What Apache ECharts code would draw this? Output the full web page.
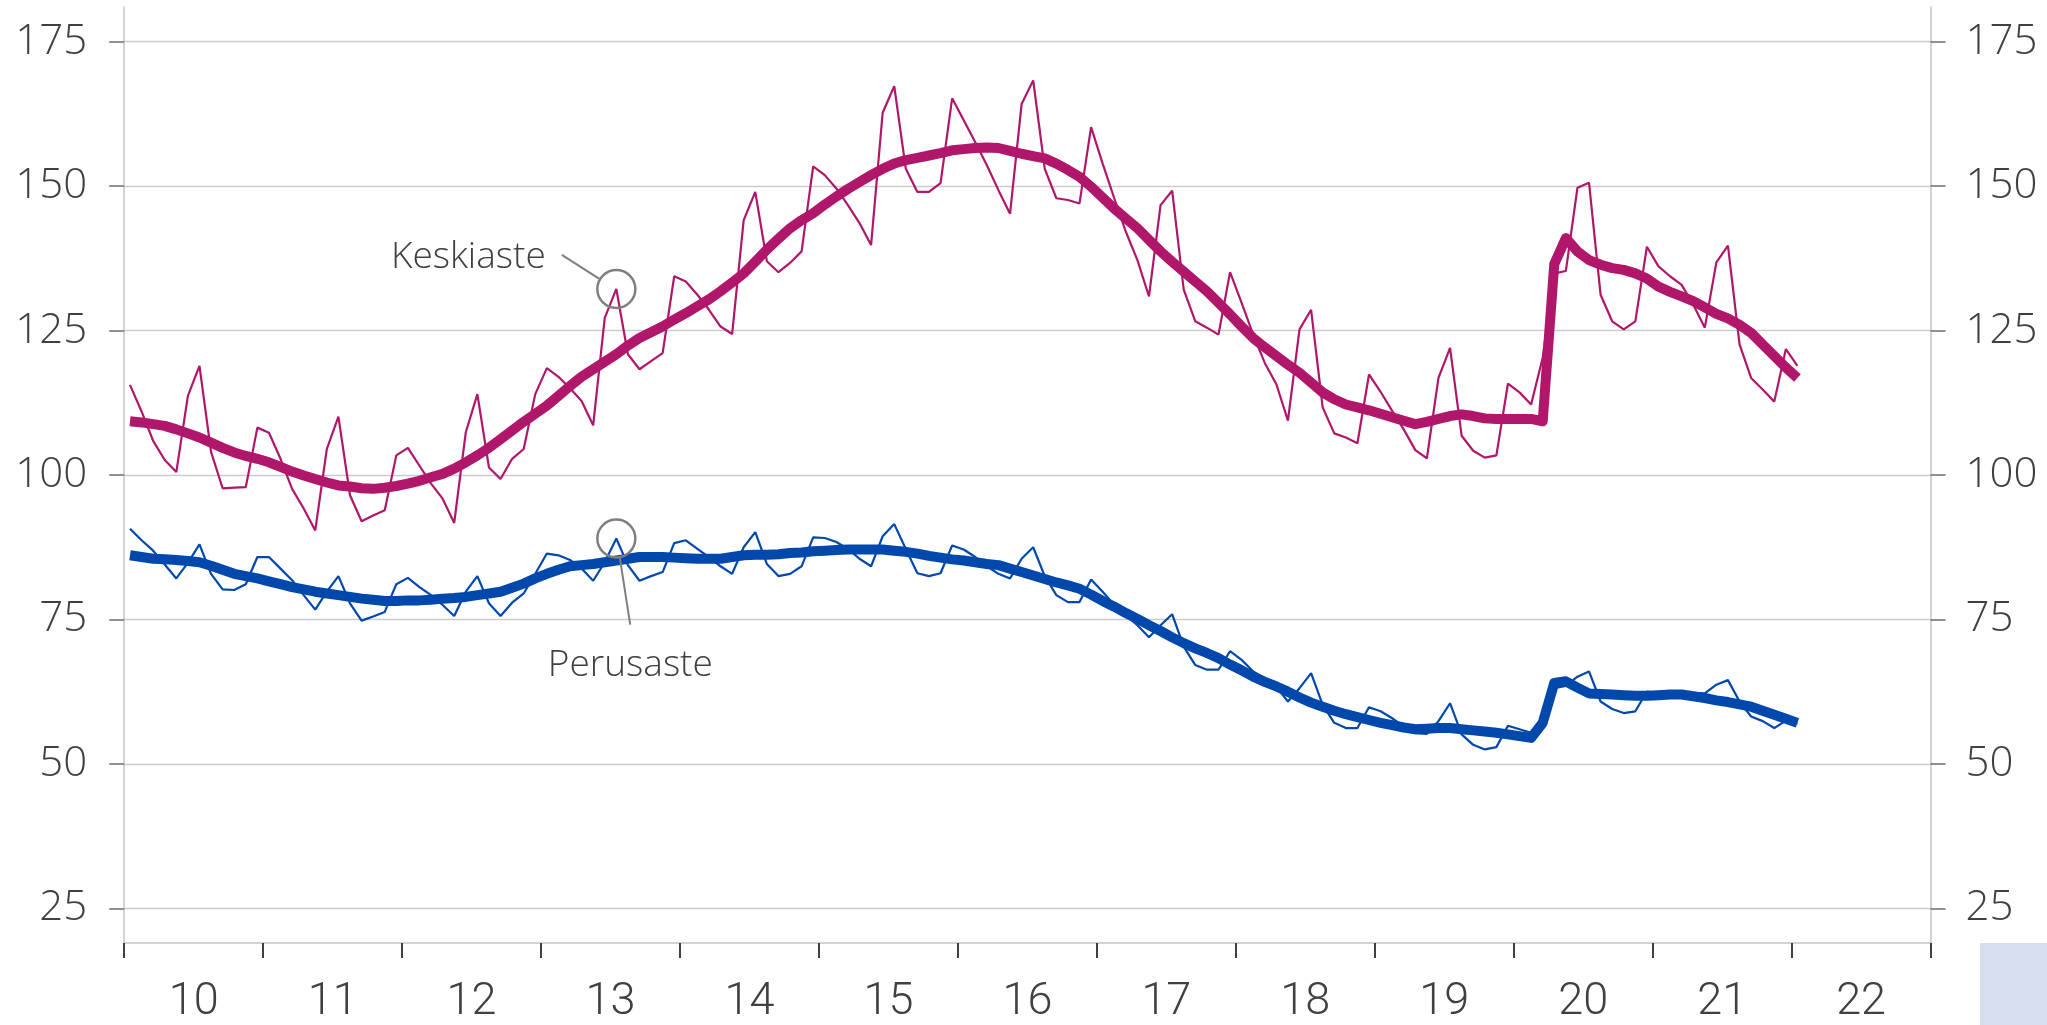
<!DOCTYPE html>
<html>
<head>
<meta charset="utf-8">
<script src="https://cdn.jsdelivr.net/npm/echarts@6/dist/echarts.min.js"></script>
<style>
  html, body { margin: 0; padding: 0; background: #fff; }
  #chart { width: 2047px; height: 1025px; }
</style>
</head>
<body>
<div id="chart"></div>
<script>
// year labels, one per year band (2010 ... 2022)
const yearLabels = ['10', '11', '12', '13', '14', '15', '16', '17', '18', '19', '20', '21', '22'];
const yTicks = [25, 50, 75, 100, 125, 150, 175];

// monthly values from Jan 2010 to Jan 2022
const keskiaste = [
  115.6, 111.0, 105.9, 102.6, 100.5, 113.7, 118.9, 104.0, 97.7, 97.8, 97.9, 108.2,
  107.3, 102.8, 97.6, 94.2, 90.4, 104.5, 110.1, 96.5, 92.0, 93.0, 93.9, 103.4,
  104.7, 101.6, 98.5, 95.9, 91.7, 107.4, 114.0, 101.3, 99.3, 102.8, 104.5, 114.0,
  118.5, 117.0, 115.0, 112.8, 108.6, 127.2, 132.2, 120.9, 118.3, 119.7, 121.1, 134.4,
  133.5, 131.2, 128.6, 125.7, 124.4, 144.1, 149.0, 137.0, 135.1, 136.7, 138.7, 153.4,
  151.9, 149.6, 146.7, 143.6, 139.8, 162.7, 167.3, 153.0, 149.0, 149.0, 150.5, 165.2,
  161.4, 157.6, 153.6, 149.3, 145.2, 164.2, 168.3, 153.0, 147.9, 147.6, 147.0, 160.2,
  153.9, 147.9, 142.1, 137.2, 130.9, 146.7, 149.2, 132.1, 126.6, 125.5, 124.3, 135.1,
  129.8, 124.3, 119.4, 115.7, 109.4, 125.2, 128.6, 111.7, 107.2, 106.5, 105.5, 117.4,
  114.4, 111.1, 107.9, 104.3, 102.9, 116.8, 122.0, 106.8, 104.2, 103.0, 103.4, 115.8,
  114.3, 112.2, 120.3, 134.9, 135.3, 149.7, 150.6, 131.2, 126.6, 125.2, 126.6, 139.5,
  136.1, 134.4, 132.9, 129.5, 125.5, 136.8, 139.7, 122.6, 116.8, 114.8, 112.7, 121.8,
  118.9
];
const keskiasteTrend = [
  109.3, 109.1, 108.8, 108.5, 107.9, 107.2, 106.5, 105.6, 104.7, 103.9, 103.3, 102.8,
  102.2, 101.4, 100.6, 99.9, 99.3, 98.7, 98.2, 98.0, 97.7, 97.6, 97.8, 98.1,
  98.5, 99.0, 99.6, 100.2, 101.1, 102.2, 103.4, 104.7, 106.2, 107.7, 109.2, 110.6,
  112.0, 113.7, 115.4, 117.0, 118.3, 119.6, 120.9, 122.4, 123.7, 124.7, 125.7, 126.9,
  128.0, 129.2, 130.4, 131.8, 133.3, 134.9, 136.9, 139.0, 140.9, 142.7, 144.1, 145.3,
  146.8, 148.2, 149.5, 150.7, 151.9, 153.0, 153.9, 154.5, 154.9, 155.3, 155.7, 156.2,
  156.4, 156.6, 156.7, 156.6, 156.1, 155.6, 155.2, 154.8, 153.9, 152.8, 151.6, 149.9,
  148.0, 146.1, 144.4, 142.7, 140.7, 138.7, 136.9, 135.2, 133.5, 131.8, 129.8, 127.8,
  125.7, 123.7, 122.1, 120.6, 119.1, 117.7, 116.0, 114.3, 113.1, 112.2, 111.7, 111.2,
  110.6, 110.0, 109.4, 108.8, 109.2, 109.7, 110.2, 110.5, 110.2, 109.8, 109.7, 109.7,
  109.7, 109.7, 109.3, 136.5, 141.0, 138.7, 137.2, 136.4, 135.8, 135.5, 134.9, 134.0,
  132.6, 131.7, 130.9, 130.1, 129.0, 127.9, 127.1, 126.0, 124.6, 122.6, 120.6, 118.6,
  116.8
];
const perusaste = [
  90.7, 88.7, 86.9, 84.5, 82.1, 84.8, 88.0, 82.9, 80.2, 80.1, 81.1, 85.8,
  85.8, 83.8, 81.8, 79.2, 76.7, 79.8, 82.5, 77.8, 74.8, 75.5, 76.3, 81.1,
  82.2, 80.6, 79.2, 77.5, 75.6, 79.8, 82.5, 77.8, 75.6, 77.9, 79.5, 82.9,
  86.4, 86.1, 85.3, 83.8, 81.7, 84.9, 89.0, 84.4, 81.7, 82.5, 83.2, 88.2,
  88.7, 87.2, 85.8, 84.2, 82.9, 87.5, 90.1, 84.6, 82.5, 82.9, 84.2, 89.2,
  89.1, 88.4, 87.2, 85.5, 84.2, 89.4, 91.5, 87.2, 83.0, 82.5, 83.0, 87.8,
  87.1, 85.8, 84.2, 82.9, 82.1, 85.5, 87.5, 82.5, 79.2, 78.0, 78.0, 81.9,
  79.8, 77.5, 75.7, 74.0, 71.9, 74.0, 75.9, 70.3, 67.1, 66.3, 66.3, 69.5,
  68.0, 66.0, 64.8, 63.4, 60.8, 63.1, 65.7, 60.2, 57.1, 56.2, 56.2, 59.8,
  59.1, 57.9, 56.5, 55.3, 55.2, 57.4, 60.5, 55.1, 53.3, 52.5, 52.9, 56.6,
  56.0, 55.4, 57.6, 63.1, 63.5, 65.1, 66.0, 60.8, 59.5, 58.8, 59.1, 62.5,
  62.2, 62.2, 62.4, 62.2, 62.2, 63.7, 64.5, 60.8, 58.2, 57.4, 56.2, 57.5,
  57.0
];
const perusasteTrend = [
  86.1, 85.8, 85.5, 85.4, 85.3, 85.1, 84.9, 84.3, 83.6, 82.9, 82.5, 82.1,
  81.6, 81.1, 80.6, 80.2, 79.8, 79.5, 79.2, 78.9, 78.6, 78.4, 78.2, 78.2,
  78.3, 78.3, 78.4, 78.6, 78.7, 78.9, 79.2, 79.5, 79.8, 80.5, 81.2, 82.1,
  82.9, 83.6, 84.2, 84.4, 84.6, 84.9, 85.2, 85.5, 85.8, 85.8, 85.8, 85.7,
  85.6, 85.5, 85.5, 85.5, 85.8, 86.1, 86.2, 86.2, 86.3, 86.5, 86.6, 86.8,
  86.9, 87.0, 87.1, 87.1, 87.1, 87.1, 86.9, 86.7, 86.4, 86.0, 85.7, 85.4,
  85.2, 84.9, 84.6, 84.4, 83.8, 83.2, 82.6, 82.0, 81.4, 80.9, 80.3, 79.3,
  78.2, 77.2, 76.1, 75.1, 74.0, 73.0, 71.9, 70.9, 70.0, 69.2, 68.3, 67.2,
  66.2, 65.1, 64.2, 63.4, 62.5, 61.5, 60.6, 59.9, 59.2, 58.6, 58.1, 57.6,
  57.1, 56.7, 56.3, 56.0, 56.1, 56.2, 56.2, 56.0, 55.8, 55.6, 55.4, 55.1,
  54.8, 54.5, 57.1, 64.0, 64.3, 63.2, 62.2, 62.1, 62.0, 61.9, 61.8, 61.8,
  61.9, 62.0, 62.0, 61.7, 61.4, 61.0, 60.7, 60.3, 59.9, 59.2, 58.5, 57.8,
  57.1
];

// callouts: series name, marked month index, label, label offset, leader line ends [month, value]
const callouts = [
  { name: 'Keskiaste', index: 42, offset: [-148, -32], leader: [[37.8, 138.1], [41.0, 134.0]] },
  { name: 'Perusaste', index: 42, offset: [14, 127], leader: [[42.8, 85.7], [43.7, 74.1]] }
];

const PINK = '#b0166a';
const BLUE = '#0048ab';
const TEXT = '#404040';

const monthPos = (i) => i + 0.5;
const toPoints = (vals) => vals.map((v, i) => [monthPos(i), v]);

function calloutFor(name, vals) {
  const c = callouts.find((d) => d.name === name);
  return {
    markPoint: {
      silent: true,
      symbol: 'circle',
      symbolSize: 38,
      itemStyle: { color: 'rgba(0,0,0,0)', borderColor: '#7f7f7f', borderWidth: 2.5 },
      label: {
        show: true,
        position: 'inside',
        offset: c.offset,
        formatter: c.name,
        color: TEXT,
        fontFamily: 'Open Sans',
        fontWeight: 300,
        fontSize: 37
      },
      data: [{ coord: [monthPos(c.index), vals[c.index]] }]
    },
    markLine: {
      silent: true,
      symbol: ['none', 'none'],
      label: { show: false },
      lineStyle: { color: '#7f7f7f', width: 2, type: 'solid' },
      data: [[{ coord: c.leader[0] }, { coord: c.leader[1] }]]
    }
  };
}

const chart = echarts.init(document.getElementById('chart'), null, { renderer: 'canvas' });

const yAxisBase = {
  type: 'value',
  min: 19,
  max: 181,
  axisLine: { show: true, lineStyle: { color: '#c4c4c4', width: 1.5 } },
  axisTick: { show: true, length: 15, customValues: yTicks, lineStyle: { color: '#6e6e6e', width: 1.5 } },
  axisLabel: {
    customValues: yTicks,
    color: TEXT,
    fontFamily: 'Open Sans',
    fontWeight: 300,
    fontSize: 42
  }
};

const option = {
  animation: false,
  backgroundColor: '#ffffff',
  grid: { left: 124.2, right: 116.4, top: 7, bottom: 77.6, containLabel: false },
  xAxis: {
    type: 'value',
    min: 0,
    max: yearLabels.length * 12,
    interval: 12,
    axisLine: { show: true, onZero: false, lineStyle: { color: '#c4c4c4', width: 1.5 } },
    axisTick: { show: true, length: 15, lineStyle: { color: '#404040', width: 2 } },
    splitLine: { show: false },
    axisLabel: {
      customValues: yearLabels.map((_, k) => k * 12 + 6),
      formatter: (v) => yearLabels[Math.round((v - 6) / 12)],
      margin: 37,
      color: TEXT,
      fontFamily: 'Roboto',
      fontWeight: 300,
      fontSize: 45
    }
  },
  yAxis: [
    Object.assign({}, yAxisBase, {
      position: 'left',
      offset: 4,
      splitLine: { show: true, lineStyle: { color: '#cccccc', width: 1.3 } },
      axisLabel: Object.assign({}, yAxisBase.axisLabel, { margin: 33 })
    }),
    Object.assign({}, yAxisBase, {
      position: 'right',
      splitLine: { show: false },
      axisLabel: Object.assign({}, yAxisBase.axisLabel, { margin: 35 })
    })
  ],
  series: [
    Object.assign({
      name: 'Keskiaste',
      type: 'line',
      data: toPoints(keskiaste),
      showSymbol: false,
      lineStyle: { color: PINK, width: 2.2 },
      z: 2
    }, calloutFor('Keskiaste', keskiaste)),
    Object.assign({
      name: 'Perusaste',
      type: 'line',
      data: toPoints(perusaste),
      showSymbol: false,
      lineStyle: { color: BLUE, width: 2.2 },
      z: 2
    }, calloutFor('Perusaste', perusaste)),
    {
      name: 'Keskiaste trendi',
      type: 'line',
      data: toPoints(keskiasteTrend),
      showSymbol: false,
      lineStyle: { color: PINK, width: 10, cap: 'butt', join: 'round' },
      z: 3
    },
    {
      name: 'Perusaste trendi',
      type: 'line',
      data: toPoints(perusasteTrend),
      showSymbol: false,
      lineStyle: { color: BLUE, width: 10, cap: 'butt', join: 'round' },
      z: 3
    }
  ],
  graphic: [
    {
      type: 'rect',
      right: 0,
      bottom: 0,
      shape: { width: 67, height: 82 },
      style: { fill: '#d7deee' },
      silent: true
    }
  ]
};

chart.setOption(option);
</script>
</body>
</html>
